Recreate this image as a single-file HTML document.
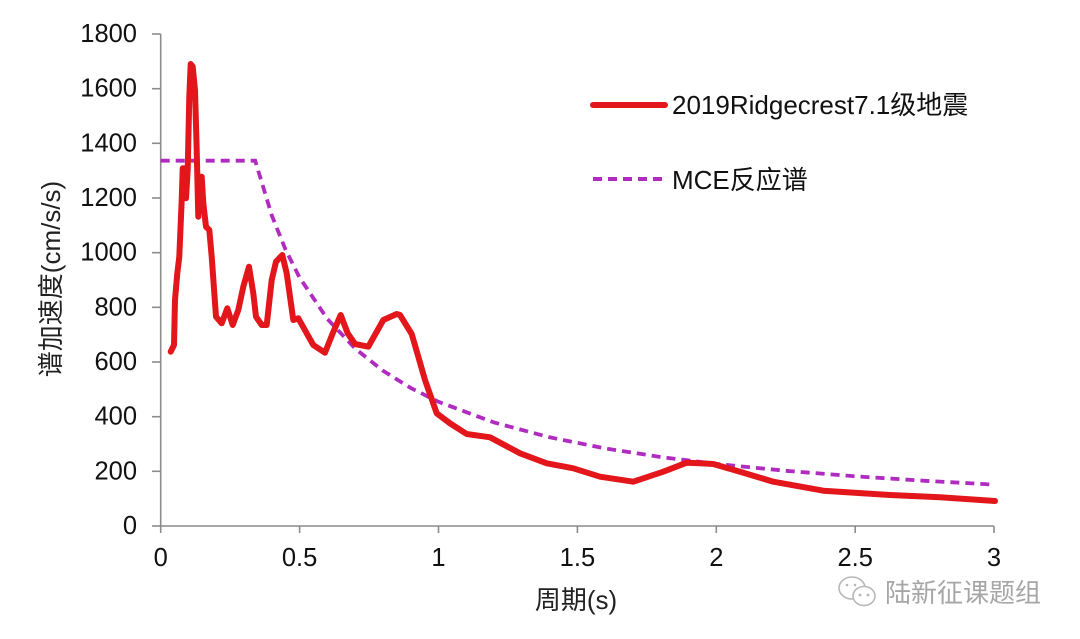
<!DOCTYPE html>
<html><head><meta charset="utf-8"><style>
html,body{margin:0;padding:0;background:#fff;}
svg{display:block;}
text{font-family:"Liberation Sans","Noto Sans CJK SC",sans-serif;}
</style></head><body>
<svg width="1080" height="639" viewBox="0 0 1080 639" xmlns="http://www.w3.org/2000/svg">
<rect width="1080" height="639" fill="#fff"/>
<!-- axes -->
<g stroke="#8c8c8c" stroke-width="1.6" fill="none">
<line x1="160.7" y1="34" x2="160.7" y2="526"/>
<line x1="160.7" y1="526" x2="994" y2="526"/>
<line x1="152" y1="34" x2="160.7" y2="34"/>
<line x1="152" y1="88.7" x2="160.7" y2="88.7"/>
<line x1="152" y1="143.3" x2="160.7" y2="143.3"/>
<line x1="152" y1="198" x2="160.7" y2="198"/>
<line x1="152" y1="252.7" x2="160.7" y2="252.7"/>
<line x1="152" y1="307.3" x2="160.7" y2="307.3"/>
<line x1="152" y1="362" x2="160.7" y2="362"/>
<line x1="152" y1="416.7" x2="160.7" y2="416.7"/>
<line x1="152" y1="471.3" x2="160.7" y2="471.3"/>
<line x1="152" y1="526" x2="160.7" y2="526"/>
<line x1="160.7" y1="526" x2="160.7" y2="533"/>
<line x1="299.6" y1="526" x2="299.6" y2="533"/>
<line x1="438.5" y1="526" x2="438.5" y2="533"/>
<line x1="577.4" y1="526" x2="577.4" y2="533"/>
<line x1="716.3" y1="526" x2="716.3" y2="533"/>
<line x1="855.2" y1="526" x2="855.2" y2="533"/>
<line x1="994" y1="526" x2="994" y2="533"/>
</g>
<!-- y tick labels -->
<g font-size="25.5" fill="#111" text-anchor="end" dominant-baseline="central">
<text x="137" y="34">1800</text>
<text x="137" y="88.7">1600</text>
<text x="137" y="143.3">1400</text>
<text x="137" y="198">1200</text>
<text x="137" y="252.7">1000</text>
<text x="137" y="307.3">800</text>
<text x="137" y="362">600</text>
<text x="137" y="416.7">400</text>
<text x="137" y="471.3">200</text>
<text x="137" y="526">0</text>
</g>
<!-- x tick labels -->
<g font-size="25.5" fill="#111" text-anchor="middle" dominant-baseline="central">
<text x="160.7" y="558">0</text>
<text x="299.6" y="558">0.5</text>
<text x="438.5" y="558">1</text>
<text x="577.4" y="558">1.5</text>
<text x="716.3" y="558">2</text>
<text x="855.2" y="558">2.5</text>
<text x="994" y="558">3</text>
</g>
<!-- axis titles -->
<text x="576" y="600" font-size="26" fill="#222" text-anchor="middle" dominant-baseline="central">周期(s)</text>
<text transform="translate(51,279) rotate(-90)" font-size="26" fill="#222" text-anchor="middle" dominant-baseline="central">谱加速度(cm/s/s)</text>
<!-- MCE dashed -->
<polyline fill="none" stroke="#b02cc0" stroke-width="3.8" stroke-dasharray="9 6"
points="160.7,160.7 255.2,160.7 271.8,215.5 285.7,250 299.6,277.6 327.4,319 355.2,348.6 383,370.75 410.7,388 438.5,401.8 494.1,422.5 549.6,437.3 605.2,448.4 660.7,457 716.3,463.9 785.8,470.8 855.2,476.3 924.7,480.8 994.1,484.6"/>
<!-- red series -->
<polyline fill="none" stroke="#e3161b" stroke-width="6" stroke-linejoin="round" stroke-linecap="round"
points="170.7,351.7 174,345 175,300 177.3,273.3 179.3,256.7 181.7,200 182.7,168.3 184.3,168.3 186,198.3 187.7,170 189.3,96.7 190.7,64 192.7,66.7 195,90 196.7,150 198.3,216.7 200,176.7 201.7,176.7 203.3,203.3 206,226.7 209.3,230 211.7,256.7 216,316.7 221.7,323.3 227.3,308.3 232.7,325 238.3,310 243.3,286.7 249,266.7 253.3,293.3 256,316.7 261.7,325 266.7,325 271.7,280 276,261.7 282.3,255 286.7,273.3 293.3,320 298.3,318.3 306.7,333.3 313.3,345 325,352.7 332.7,333.3 340.7,315 347.7,333.3 355,344 368.3,346.7 383.3,320 396.7,314 400,315 411.7,334 418.3,356.7 425,380 436.7,413.3 450,423.3 466.7,434 490,437.3 520,453.3 546.7,463.3 573.3,468.3 600,476.7 633.3,481.7 663.3,471.7 686.7,462.7 700,463.3 713.3,464 740,471.7 773.3,481.7 823.3,490.7 890,495 940,497.3 995,501"/>
<!-- legend -->
<line x1="593" y1="105" x2="665" y2="105" stroke="#e3161b" stroke-width="6" stroke-linecap="round"/>
<text x="672" y="105" font-size="26" fill="#111" dominant-baseline="central">2019Ridgecrest7.1级地震</text>
<line x1="593" y1="179" x2="665" y2="179" stroke="#b02cc0" stroke-width="4" stroke-dasharray="9 6"/>
<text x="672" y="180" font-size="26" fill="#111" dominant-baseline="central">MCE反应谱</text>
<!-- watermark -->
<g fill="none" stroke="#b8b8b8" stroke-width="1.6">
<ellipse cx="852" cy="588" rx="13" ry="11"/>
<ellipse cx="864" cy="596" rx="11" ry="9.5" fill="#fff"/>
</g>
<g fill="#b8b8b8"><circle cx="860" cy="595" r="1.4"/><circle cx="868" cy="595" r="1.4"/><circle cx="847" cy="585" r="1.3"/><circle cx="855" cy="585" r="1.3"/></g>
<text x="885" y="593" font-size="26" fill="#a6a6a6" dominant-baseline="central">陆新征课题组</text>
</svg>
</body></html>
